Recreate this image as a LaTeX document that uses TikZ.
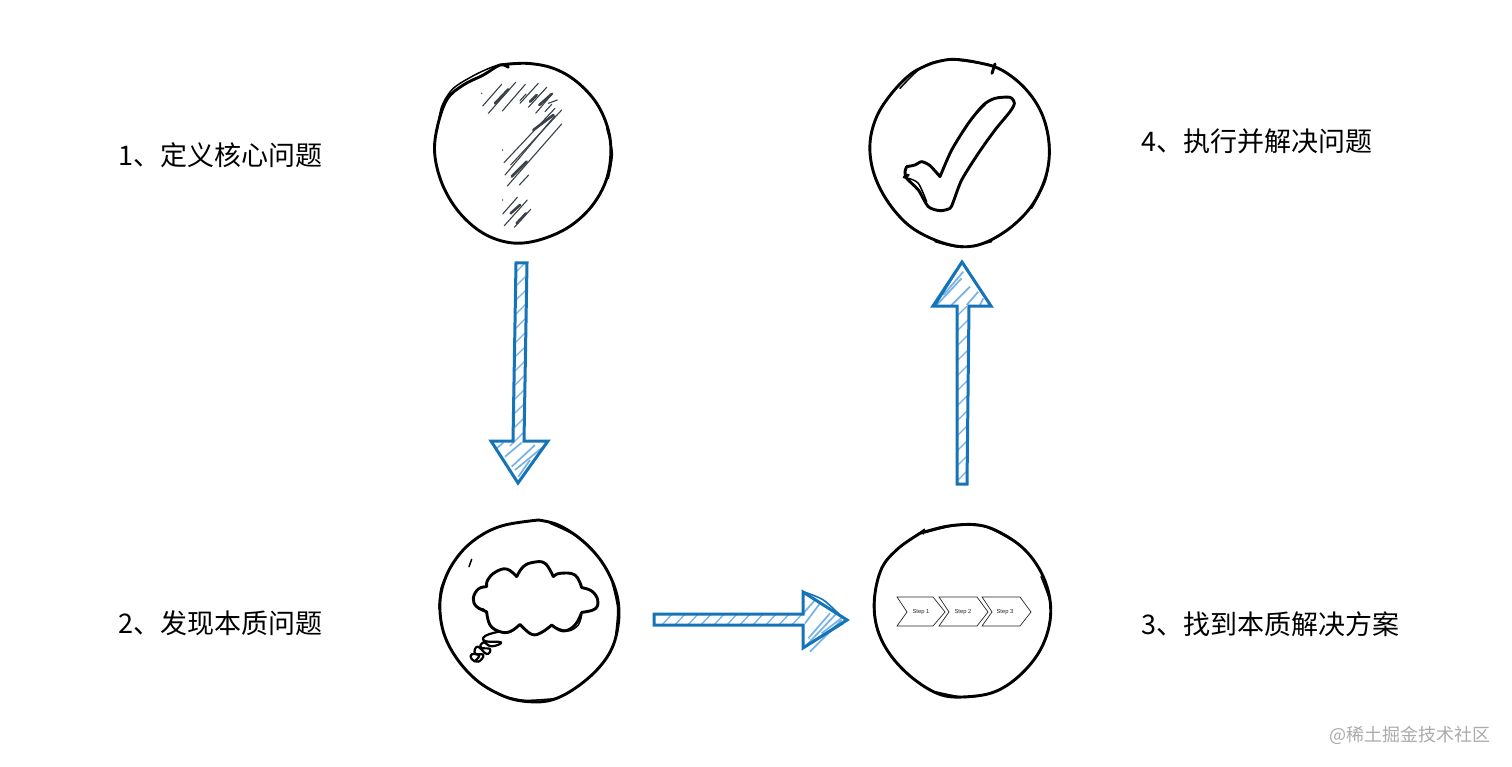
\documentclass[tikz,border=0pt]{standalone}
\usepackage{fontspec}
\setmainfont{Noto Sans CJK SC}
\newfontfamily\stepfont{Liberation Sans}
\definecolor{arrowblue}{HTML}{1573B8}
\definecolor{hatchblue}{HTML}{74B2E8}
\definecolor{pencil}{HTML}{3A4148}
\tikzset{
  icon/.style={shift={(#1)},x=0.33333pt,y=-0.33333pt},
  ink/.style={draw=black,line width=2.9pt,line cap=round,line join=round},
  inkthin/.style={draw=black,line width=1.5pt,line cap=round,line join=round},
  pen/.style={draw=pencil,line width=1.1pt,line cap=round},
  penbold/.style={draw=pencil,line width=2.6pt,line cap=round},
  outlineblue/.style={draw=arrowblue,line width=3pt,line join=miter},
  hatchline/.style={draw=hatchblue,line width=1.3pt},
  headhatch/.style={draw=hatchblue,line width=1.7pt},
  label/.style={anchor=west,inner sep=0pt,font=\fontsize{27}{30}\selectfont,text=black},
  chev/.style={draw=black!85,line width=0.7pt,line join=miter},
  steptext/.style={inner sep=0pt,font=\stepfont\fontsize{5.8}{6}\selectfont,text=black!85},
  wmark/.style={anchor=east,inner sep=0pt,font=\fontsize{18}{20}\selectfont,text=black!33}
}
\begin{document}
\begin{tikzpicture}[x=1pt,y=-1pt]
\useasboundingbox (0,0) rectangle (1512,767);
\fill[white] (0,0) rectangle (1512,767);

% circle 1 with question mark
\begin{scope}[icon={420,50}]
\draw[ink] plot[smooth,tension=0.6] coordinates {(240,45)(320,40)(400,55)(470,95)(530,160)(565,240)(572,320)(555,400)(510,475)(440,535)(350,572)(270,578)(190,550)(120,490)(70,410)(45,320)(50,240)(80,150)(130,105)(190,75)(240,45)(265,52)};
\draw[inkthin] plot[smooth] coordinates {(290,40)(235,45)(170,72)(100,115)(65,170)(52,240)};
\draw[inkthin] plot[smooth] coordinates {(560,235)(577,310)(565,385)};
\foreach \a/\b/\c/\d in {188/168/245/103,205/190/287/97,247/183/316/103,300/160/355/100,325/172/380/112,347/190/398/130,375/185/395/163,300/152/318/132,385/160/412/150,252/338/405/175,272/345/425/180,255/375/405/197,262/408/425/222,298/405/326/375,248/492/292/442,253/527/322/450,283/532/332/478}
  \draw[pen] (\a,\b) -- (\c,\d);
\foreach \a/\b/\c/\d in {225/160/265/118,358/165/395/132,330/155/350/135,340/240/400/195,275/380/320/335,272/490/300/465,290/520/318/490}
  \draw[penbold] (\a,\b) -- (\c,\d);
\foreach \a/\b in {185/130,248/300,248/450}
  \fill[pencil] (\a,\b) circle[radius=2.4];
\end{scope}

% circle 4 with check mark
\begin{scope}[icon={855,50}]
\draw[ink] plot[smooth,tension=0.6] coordinates {(230,40)(290,28)(370,38)(440,60)(510,115)(560,190)(582,280)(575,370)(535,460)(470,530)(390,578)(320,590)(240,570)(160,525)(95,450)(55,365)(45,280)(65,200)(110,130)(170,70)(230,40)};
\draw[inkthin] plot[smooth] coordinates {(135,115)(190,60)(240,35)(300,30)(410,45)};
\draw[inkthin] plot[smooth] coordinates {(570,220)(584,290)(572,390)(530,475)};
\draw[inkthin] plot[smooth] coordinates {(240,575)(320,592)(410,575)};
\draw[ink] (411,70) -- (420,42);
\draw[ink] plot[smooth,tension=0.45] coordinates {(155,350)(180,345)(200,335)(225,347)(255,380)}
  plot[smooth,tension=0.45] coordinates {(255,380)(290,300)(340,220)(385,165)(420,145)(465,142)(478,160)(465,185)(420,240)(370,310)(320,390)(295,455)(285,475)(255,482)(220,470)(190,420)(155,385)(150,365)(155,350)};
\draw[inkthin] plot[smooth] coordinates {(160,385)(190,400)(215,455)};
\draw[inkthin] plot[smooth] coordinates {(325,245)(350,205)(390,165)};
\draw[ink] (147,382) -- (160,375);
\end{scope}

% circle 2 with thought cloud
\begin{scope}[icon={425,505}]
\draw[ink] plot[smooth,tension=0.6] coordinates {(340,45)(400,60)(470,105)(530,170)(570,250)(582,330)(565,420)(520,490)(450,550)(380,585)(310,590)(240,575)(160,530)(95,460)(55,380)(45,290)(65,210)(110,140)(170,90)(240,60)(340,45)};
\draw[inkthin] plot[smooth] coordinates {(375,55)(440,85)(480,115)};
\draw[inkthin] plot[smooth] coordinates {(42,310)(48,250)(70,200)};
\draw[inkthin] plot[smooth] coordinates {(562,235)(578,310)(572,390)};
\draw[inkthin] plot[smooth] coordinates {(230,572)(300,586)(400,580)};
\draw[inkthin] (140,163) -- (132,185);
\draw[ink] plot[smooth,tension=0.7] coordinates {(185,245)(160,252)(145,280)(155,305)(185,320)}
  plot[smooth,tension=0.7] coordinates {(185,320)(195,360)(225,380)(255,380)(285,358)}
  plot[smooth,tension=0.7] coordinates {(285,358)(320,388)(350,382)(380,360)}
  plot[smooth,tension=0.7] coordinates {(380,360)(415,378)(450,360)(470,322)}
  plot[smooth,tension=0.7] coordinates {(470,322)(510,312)(518,285)(500,258)(470,248)}
  plot[smooth,tension=0.7] coordinates {(470,248)(450,210)(405,205)(385,215)}
  plot[smooth,tension=0.7] coordinates {(385,215)(360,175)(325,172)(295,185)(275,215)}
  plot[smooth,tension=0.7] coordinates {(275,215)(245,192)(210,202)(188,225)(185,245)};
\draw[inkthin] plot[smooth] coordinates {(160,312)(175,312)(187,330)};
\draw[inkthin] plot[smooth] coordinates {(385,365)(430,378)(460,360)(470,330)};
\draw[inkthin,line width=2.2pt] plot[smooth,tension=0.8] coordinates {(222,380)(182,392)(180,408)(228,412)(200,424)(175,412)(168,428)(195,432)(185,447)(158,425)(150,445)(175,450)(160,470)(140,462)(140,448)(162,452)(150,468)};
\end{scope}

% circle 3 with steps
\begin{scope}[icon={855,510}]
\draw[ink] plot[smooth,tension=0.6] coordinates {(195,70)(280,48)(370,45)(440,70)(510,120)(560,190)(585,270)(582,350)(550,430)(490,500)(420,545)(340,560)(260,555)(180,510)(110,440)(68,360)(58,270)(80,175)(130,115)(195,70)};
\draw[inkthin] (175,82) -- (208,58) -- (205,72);
\draw[inkthin] plot[smooth] coordinates {(210,68)(300,47)(390,50)(470,90)};
\draw[inkthin] plot[smooth] coordinates {(558,200)(588,290)(575,380)};
\draw[inkthin] plot[smooth] coordinates {(60,240)(60,330)(85,400)};
\draw[inkthin] plot[smooth] coordinates {(240,545)(330,562)(400,552)};
\end{scope}
\draw[chev] (897,597) -- (933,597) -- (945,612) -- (933,626) -- (897,626) -- (907,612) -- cycle;
\draw[chev] (939,597) -- (977,597) -- (988,612) -- (977,626) -- (939,626) -- (949,612) -- cycle;
\draw[chev] (982,597) -- (1020,597) -- (1031,612) -- (1020,626) -- (982,626) -- (992,612) -- cycle;
\node[steptext] (s1) at (921,612) {Step 1};
\node[steptext] (s2) at (963,612) {Step 2};
\node[steptext] (s3) at (1005,612) {Step 3};

% arrow 1: down
\def\arrowdown{(516,263) -- (527,263) -- (524,441) -- (548,441) -- (518,483) -- (491,441) -- (513,441) -- cycle}
\begin{scope}
\clip \arrowdown;
\foreach \y in {270,284,...,440} \draw[hatchline] (510,\y+8) -- (530,\y-12);
\end{scope}
\begin{scope}[icon={480,420}]
\foreach \a/\b/\c/\d in {50/85/70/68,75/110/125/68,95/140/165/75,105/150/190/80,115/170/150/120}
  \draw[headhatch] (\a,\b) -- (\c,\d);
\end{scope}
\draw[outlineblue] \arrowdown;

% arrow 2: right
\begin{scope}
\clip (654,614) rectangle (803,625);
\foreach \x in {660,673,...,800} \draw[hatchline] (\x,627) -- (\x+14,612);
\end{scope}
\begin{scope}[icon={640,570}]
\foreach \a/\b/\c/\d in {495/160/540/100,500/225/590/130,510/245/605/150,490/130/525/90,505/205/570/130,545/190/610/140}
  \draw[headhatch] (\a,\b) -- (\c,\d);
\draw[draw=arrowblue,line width=1.6pt] plot[smooth] coordinates {(492,66)(550,90)(610,145)};
\draw[draw=arrowblue,line width=1.6pt] (500,228) -- (610,160);
\end{scope}
\draw[outlineblue] (803,614) -- (654,614) -- (654,625) -- (803,625) -- (803,648) -- (847,620) -- (803,592) -- cycle;

% arrow 3: up
\def\arrowup{(962,262) -- (991,306) -- (969,306) -- (967,484) -- (957,484) -- (957,306) -- (933,306) -- cycle}
\begin{scope}
\clip (957,306) rectangle (968,484);
\foreach \y in {315,330,...,485} \draw[hatchline] (950,\y+8) -- (975,\y-17);
\end{scope}
\begin{scope}[icon={920,255}]
\foreach \a/\b/\c/\d in {50/150/125/70,95/150/150/95,140/150/175/110,70/120/130/50,180/150/190/130}
  \draw[headhatch] (\a,\b) -- (\c,\d);
\draw[draw=arrowblue,line width=1.6pt] (48,148) -- (120,32);
\end{scope}
\draw[outlineblue] \arrowup;

% labels
\node[label] (l1) at (118,155) {1、定义核心问题};
\node[label] (l2) at (118,623) {2、发现本质问题};
\node[label] (l3) at (1141,624) {3、找到本质解决方案};
\node[label] (l4) at (1141,141) {4、执行并解决问题};
\node[wmark] (wm) at (1491,735) {@稀土掘金技术社区};
\end{tikzpicture}
\end{document}
